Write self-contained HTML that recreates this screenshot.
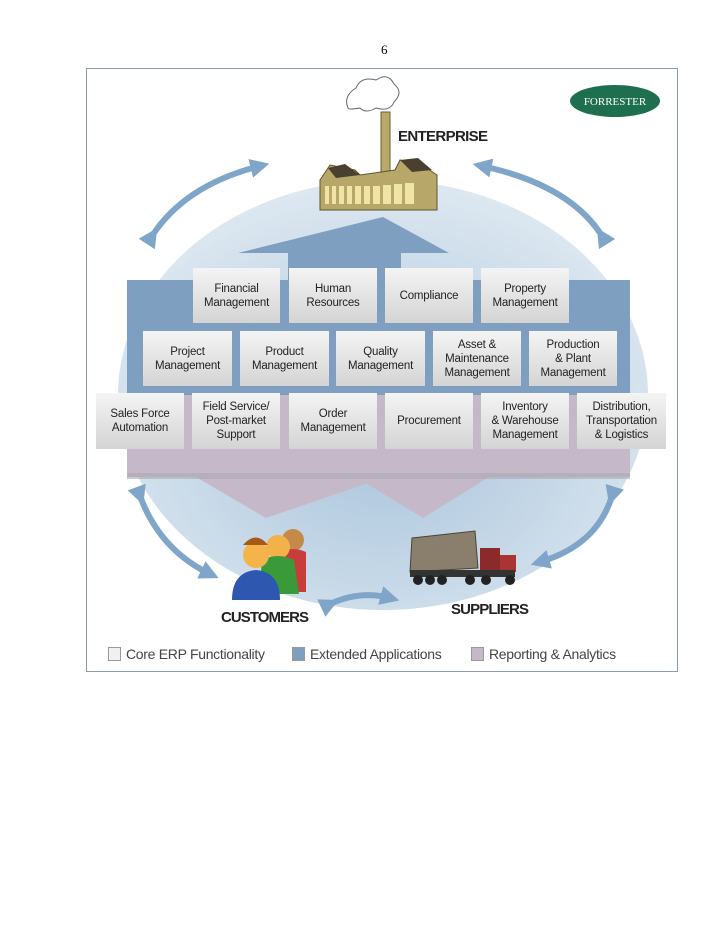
<!DOCTYPE html>
<html><head><meta charset="utf-8"><style>
body{margin:0;background:#fff;width:728px;height:942px;position:relative;overflow:hidden;font-family:"Liberation Sans",sans-serif}
.b{position:absolute;background:linear-gradient(#f4f4f4,#d4d4d4);display:flex;align-items:center;justify-content:center;text-align:center;font-size:11.5px;line-height:14px;color:#222;letter-spacing:-0.2px}
.lg{position:absolute;top:646px;font-size:14px;color:#444;letter-spacing:-0.3px}
.sq{display:inline-block;width:11px;height:12px;border:1px solid #999;vertical-align:-2px;margin-right:5px}
</style></head><body>
<div style="position:absolute;left:381px;top:42px;font-family:'Liberation Serif',serif;font-size:13px">6</div>
<div style="position:absolute;left:86px;top:68px;width:592px;height:604px;border:1px solid #8a9aaa;box-sizing:border-box"></div>
<svg style="position:absolute;left:0;top:0" width="728" height="942">
<defs>
<radialGradient id="g" cx="0.5" cy="0.6" r="0.6"><stop offset="0" stop-color="#a9c4dc"/><stop offset="1" stop-color="#dde8f1"/></radialGradient>
<marker id="ah" markerWidth="3.2" markerHeight="3.2" refX="1.6" refY="1.6" orient="auto"><path d="M0,0L3.2,1.6L0,3.2z" fill="#7fa5c8"/></marker>
</defs>
<ellipse cx="383" cy="395" rx="265" ry="215" fill="url(#g)"/>
<polygon points="238,253 383,217 449,253 401,253 401,282 288,282 288,253" fill="#7f9fc0"/>
<rect x="127" y="280" width="503" height="117" fill="#7f9fc0"/>
<rect x="127" y="395" width="503" height="82" fill="#c5b9c9"/>
<polygon points="196,477 386,477 266,518" fill="#c5b9c9"/>
<polygon points="356,477 489,477 423,518" fill="#c5b9c9"/>
<rect x="127" y="473" width="503" height="6" fill="#a9a9b3" opacity="0.6"/>
<g fill="none" stroke="#7fa5c8" stroke-width="6" marker-end="url(#ah)" marker-start="url(#ah)">
<path d="M152,236 Q185,185 260,166"/>
<path d="M602,236 Q570,185 482,166"/>
<path d="M140,496 Q160,550 210,574"/>
<path d="M612,496 Q597,545 540,562"/>
<path d="M330,604 Q360,590 390,598"/>
</g>
<path d="M348,108 q-5,-12 8,-20 q5,-12 20,-8 q12,-8 18,4 q10,8 0,18 q-4,10 -18,6 q-10,6 -16,0 q-12,2 -12,0z" fill="#fff" stroke="#666"/>
<rect x="381" y="112" width="9" height="60" fill="#b9a96b" stroke="#6c5f30"/>
<polygon points="320,180 330,165 355,170 360,175 395,170 400,160 425,167 437,175 437,210 320,210" fill="#b7a86a" stroke="#5e532a"/>
<polygon points="328,168 345,164 360,175 336,178" fill="#4a4030"/>
<polygon points="400,160 418,158 432,170 412,172" fill="#4a4030"/>
<g fill="#efe4a6"><rect x="325" y="186" width="4" height="18"/><rect x="332" y="186" width="4" height="18"/><rect x="339" y="186" width="5" height="18"/><rect x="347" y="186" width="5" height="18"/><rect x="355" y="186" width="6" height="18"/><rect x="364" y="186" width="6" height="18"/><rect x="373" y="186" width="7" height="18"/><rect x="383" y="185" width="8" height="19"/><rect x="394" y="184" width="8" height="20"/><rect x="405" y="183" width="9" height="21"/></g>
<ellipse cx="615" cy="101" rx="45" ry="16" fill="#1e6f4f"/>
<text x="615" y="105" fill="#fff" font-family="Liberation Serif" font-size="11" text-anchor="middle">FORRESTER</text>
<text x="398" y="141" font-size="15" font-weight="bold" fill="#222" textLength="90">ENTERPRISE</text>
<circle cx="293" cy="540" r="11" fill="#c58a4a"/><path d="M280,552 q13,-6 26,0 v40 h-26z" fill="#c93c3c"/>
<circle cx="278" cy="547" r="12" fill="#f3b14a"/><path d="M262,560 q16,-8 32,0 l5,34 h-40z" fill="#3a9a3a"/>
<circle cx="256" cy="555" r="13" fill="#f5b44a"/><path d="M268,545 q-12,-15 -25,0" fill="#a55a1a"/><path d="M232,600 q0,-28 24,-30 q24,2 24,30z" fill="#2e58b0"/>
<text x="221" y="622" font-size="15" font-weight="bold" fill="#222" textLength="88">CUSTOMERS</text>
<polygon points="412,538 475,531 478,568 410,572" fill="#8a7e6c" stroke="#4a4238"/>
<rect x="480" y="548" width="20" height="24" fill="#8a2a2a"/><rect x="500" y="555" width="16" height="17" fill="#a33"/>
<rect x="410" y="570" width="105" height="7" fill="#333"/>
<g fill="#222"><circle cx="418" cy="580" r="5"/><circle cx="430" cy="580" r="5"/><circle cx="442" cy="580" r="5"/><circle cx="470" cy="580" r="5"/><circle cx="486" cy="580" r="5"/><circle cx="510" cy="580" r="5"/></g>
<text x="451" y="614" font-size="15" font-weight="bold" fill="#222" textLength="78">SUPPLIERS</text>
</svg>
<div class="b" style="left:193px;top:268px;width:87px;height:55px">Financial<br>Management</div>
<div class="b" style="left:289px;top:268px;width:88px;height:55px">Human<br>Resources</div>
<div class="b" style="left:385px;top:268px;width:88px;height:55px">Compliance</div>
<div class="b" style="left:481px;top:268px;width:88px;height:55px">Property<br>Management</div>
<div class="b" style="left:143px;top:331px;width:89px;height:55px">Project<br>Management</div>
<div class="b" style="left:240px;top:331px;width:89px;height:55px">Product<br>Management</div>
<div class="b" style="left:336px;top:331px;width:89px;height:55px">Quality<br>Management</div>
<div class="b" style="left:433px;top:331px;width:88px;height:55px">Asset &amp;<br>Maintenance<br>Management</div>
<div class="b" style="left:529px;top:331px;width:88px;height:55px">Production<br>&amp; Plant<br>Management</div>
<div class="b" style="left:96px;top:393px;width:88px;height:56px">Sales Force<br>Automation</div>
<div class="b" style="left:192px;top:393px;width:88px;height:56px">Field Service/<br>Post-market<br>Support</div>
<div class="b" style="left:289px;top:393px;width:88px;height:56px">Order<br>Management</div>
<div class="b" style="left:385px;top:393px;width:88px;height:56px">Procurement</div>
<div class="b" style="left:481px;top:393px;width:88px;height:56px">Inventory<br>&amp; Warehouse<br>Management</div>
<div class="b" style="left:577px;top:393px;width:89px;height:56px">Distribution,<br>Transportation<br>&amp; Logistics</div>
<div class="lg" style="left:108px"><span class="sq" style="background:#f0f0f0"></span>Core ERP Functionality</div>
<div class="lg" style="left:292px"><span class="sq" style="background:#7f9fc0"></span>Extended Applications</div>
<div class="lg" style="left:471px"><span class="sq" style="background:#c5b9c9"></span>Reporting &amp; Analytics</div>
</body></html>
